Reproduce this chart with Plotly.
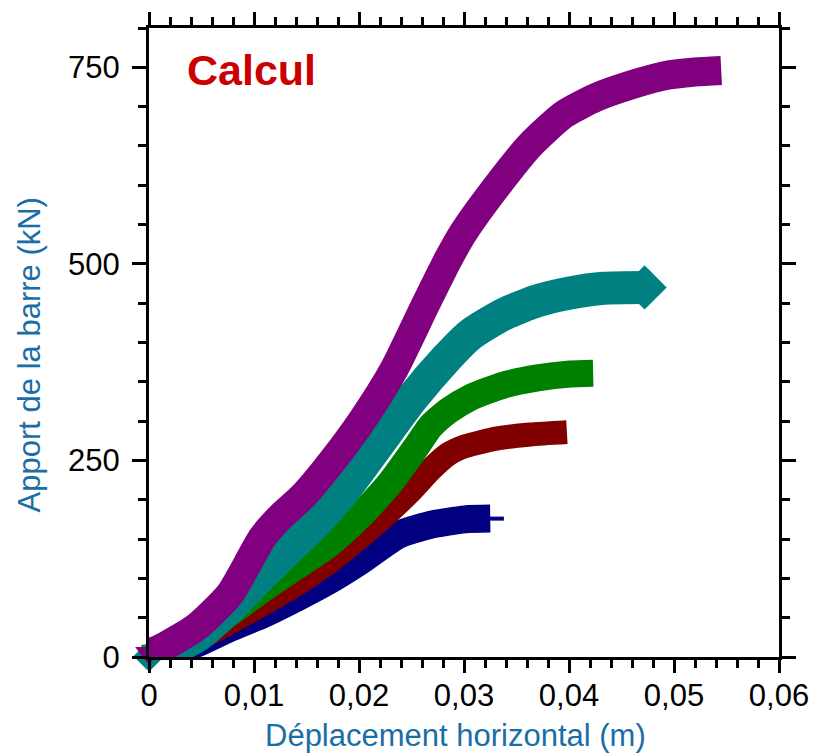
import plotly.graph_objects as go

# ---- data (x in m, y in kN) ----
blue_x = [0.0, 0.002, 0.0045, 0.0077, 0.0108, 0.0140, 0.0171, 0.0200, 0.0237, 0.0268, 0.0301, 0.0325]
blue_y = [0, 5, 17, 37, 54, 75, 97, 121, 155, 168, 175, 176]
blue_stub_x = [0.0318, 0.0338]
blue_stub_y = [176, 176]

red_x = [0.0, 0.003, 0.0077, 0.0108, 0.0140, 0.0171, 0.0199, 0.0225, 0.0250, 0.0268, 0.0285, 0.0301, 0.0332, 0.0363, 0.0398]
red_y = [0, 12, 44, 67, 92, 120, 150, 180, 212, 238, 258, 268, 278, 283, 286]

green_x = [0.0, 0.003, 0.0077, 0.0108, 0.0140, 0.0171, 0.0200, 0.0230, 0.0255, 0.0268, 0.0285, 0.0306, 0.0338, 0.0370, 0.0401, 0.0423]
green_y = [6, 18, 56, 86, 115, 143, 178, 222, 268, 293, 313, 330, 346, 355, 360, 361]

teal_x = [0.0, 0.002, 0.0045, 0.0077, 0.0108, 0.0130, 0.0155, 0.0187, 0.0218, 0.0250, 0.0282, 0.0306, 0.0338, 0.0370, 0.0401, 0.0433, 0.0472]
teal_y = [1, 10, 26, 63, 105, 134, 166, 214, 270, 328, 378, 410, 436, 453, 463, 469, 470]

purple_x = [0.0, 0.0014, 0.0045, 0.0077, 0.0108, 0.0125, 0.0147, 0.0175, 0.0204, 0.0233, 0.0264, 0.0285, 0.0300, 0.0332, 0.0363, 0.0395, 0.0426, 0.0460, 0.0490, 0.0520, 0.0545]
purple_y = [5, 13, 38, 80, 152, 178, 205, 250, 303, 365, 450, 506, 541, 600, 651, 690, 712, 728, 739, 744, 746]

x_ticks = [0, 0.01, 0.02, 0.03, 0.04, 0.05, 0.06]
y_ticks = [0, 250, 500, 750]

# (x, y, colour, band width, start symbol, start size, end symbol, end size)
series = [
    (blue_x, blue_y, "#000080", 28, None, 0, None, 0),
    (red_x, red_y, "#800000", 24, None, 0, None, 0),
    (green_x, green_y, "#008000", 27, "square", 15, None, 0),
    (teal_x, teal_y, "#008080", 33, "diamond", 24, "diamond", 34),
    (purple_x, purple_y, "#800080", 29, "triangle-down", 24, None, 0),
]

fig = go.Figure()
for xs, ys, col, w, s0, z0, s1, z1 in series:
    fig.add_trace(go.Scatter(
        x=xs, y=ys, mode="lines",
        line=dict(color=col, width=w, shape="spline", smoothing=0.6),
        showlegend=False, hoverinfo="skip",
    ))
    if s0:
        fig.add_trace(go.Scatter(
            x=xs[:1], y=ys[:1], mode="markers", cliponaxis=False,
            marker=dict(symbol=s0, size=z0, color=col, line=dict(width=0)),
            showlegend=False, hoverinfo="skip",
        ))
    if s1:
        fig.add_trace(go.Scatter(
            x=xs[-1:], y=ys[-1:], mode="markers", cliponaxis=False,
            marker=dict(symbol=s1, size=z1, color=col, line=dict(width=0)),
            showlegend=False, hoverinfo="skip",
        ))
    if col == "#000080":
        fig.add_trace(go.Scatter(
            x=blue_stub_x, y=blue_stub_y, mode="lines",
            line=dict(color=col, width=4), showlegend=False, hoverinfo="skip",
        ))

FONT = "Liberation Sans, Arial, Helvetica, sans-serif"
TITLE_COL = "#1a6ea6"

axis_common = dict(
    showline=True, linewidth=3, linecolor="black", mirror="ticks",
    ticks="outside", tickwidth=3, tickcolor="black",
    showgrid=False, zeroline=False,
    tickfont=dict(family=FONT, size=31, color="black"),
)

fig.update_xaxes(
    range=[0, 0.06], tickvals=x_ticks, ticklen=13, ticklabelstandoff=-4,
    minor=dict(dtick=0.002, tick0=0, ticks="outside", ticklen=8, tickwidth=2.5, tickcolor="black", showgrid=False),
    **axis_common,
)
fig.update_yaxes(
    range=[0, 800], tickvals=y_ticks, ticklen=14, ticklabelstandoff=6,
    minor=dict(dtick=50, tick0=0, ticks="outside", ticklen=8, tickwidth=2.5, tickcolor="black", showgrid=False),
    **axis_common,
)

fig.update_layout(
    width=821, height=755,
    margin=dict(l=149, r=37, t=23, b=98),
    paper_bgcolor="white", plot_bgcolor="white",
    separators=", ",
    annotations=[
        dict(text="Calcul", xref="paper", yref="paper", x=0.0567, y=0.934,
             xanchor="left", yanchor="middle", showarrow=False,
             font=dict(family=FONT, size=43, color="#cc0000", weight="bold")),
        dict(text="Déplacement horizontal (m)", xref="paper", yref="paper",
             x=0.486, y=-0.125, xanchor="center", yanchor="middle", showarrow=False,
             font=dict(family=FONT, size=31, color=TITLE_COL)),
        dict(text="Apport de la barre (kN)", xref="paper", yref="paper",
             x=-0.189, y=0.481, xanchor="center", yanchor="middle", showarrow=False,
             textangle=-90, font=dict(family=FONT, size=31, color=TITLE_COL)),
    ],
)

fig.write_html("out.html")
